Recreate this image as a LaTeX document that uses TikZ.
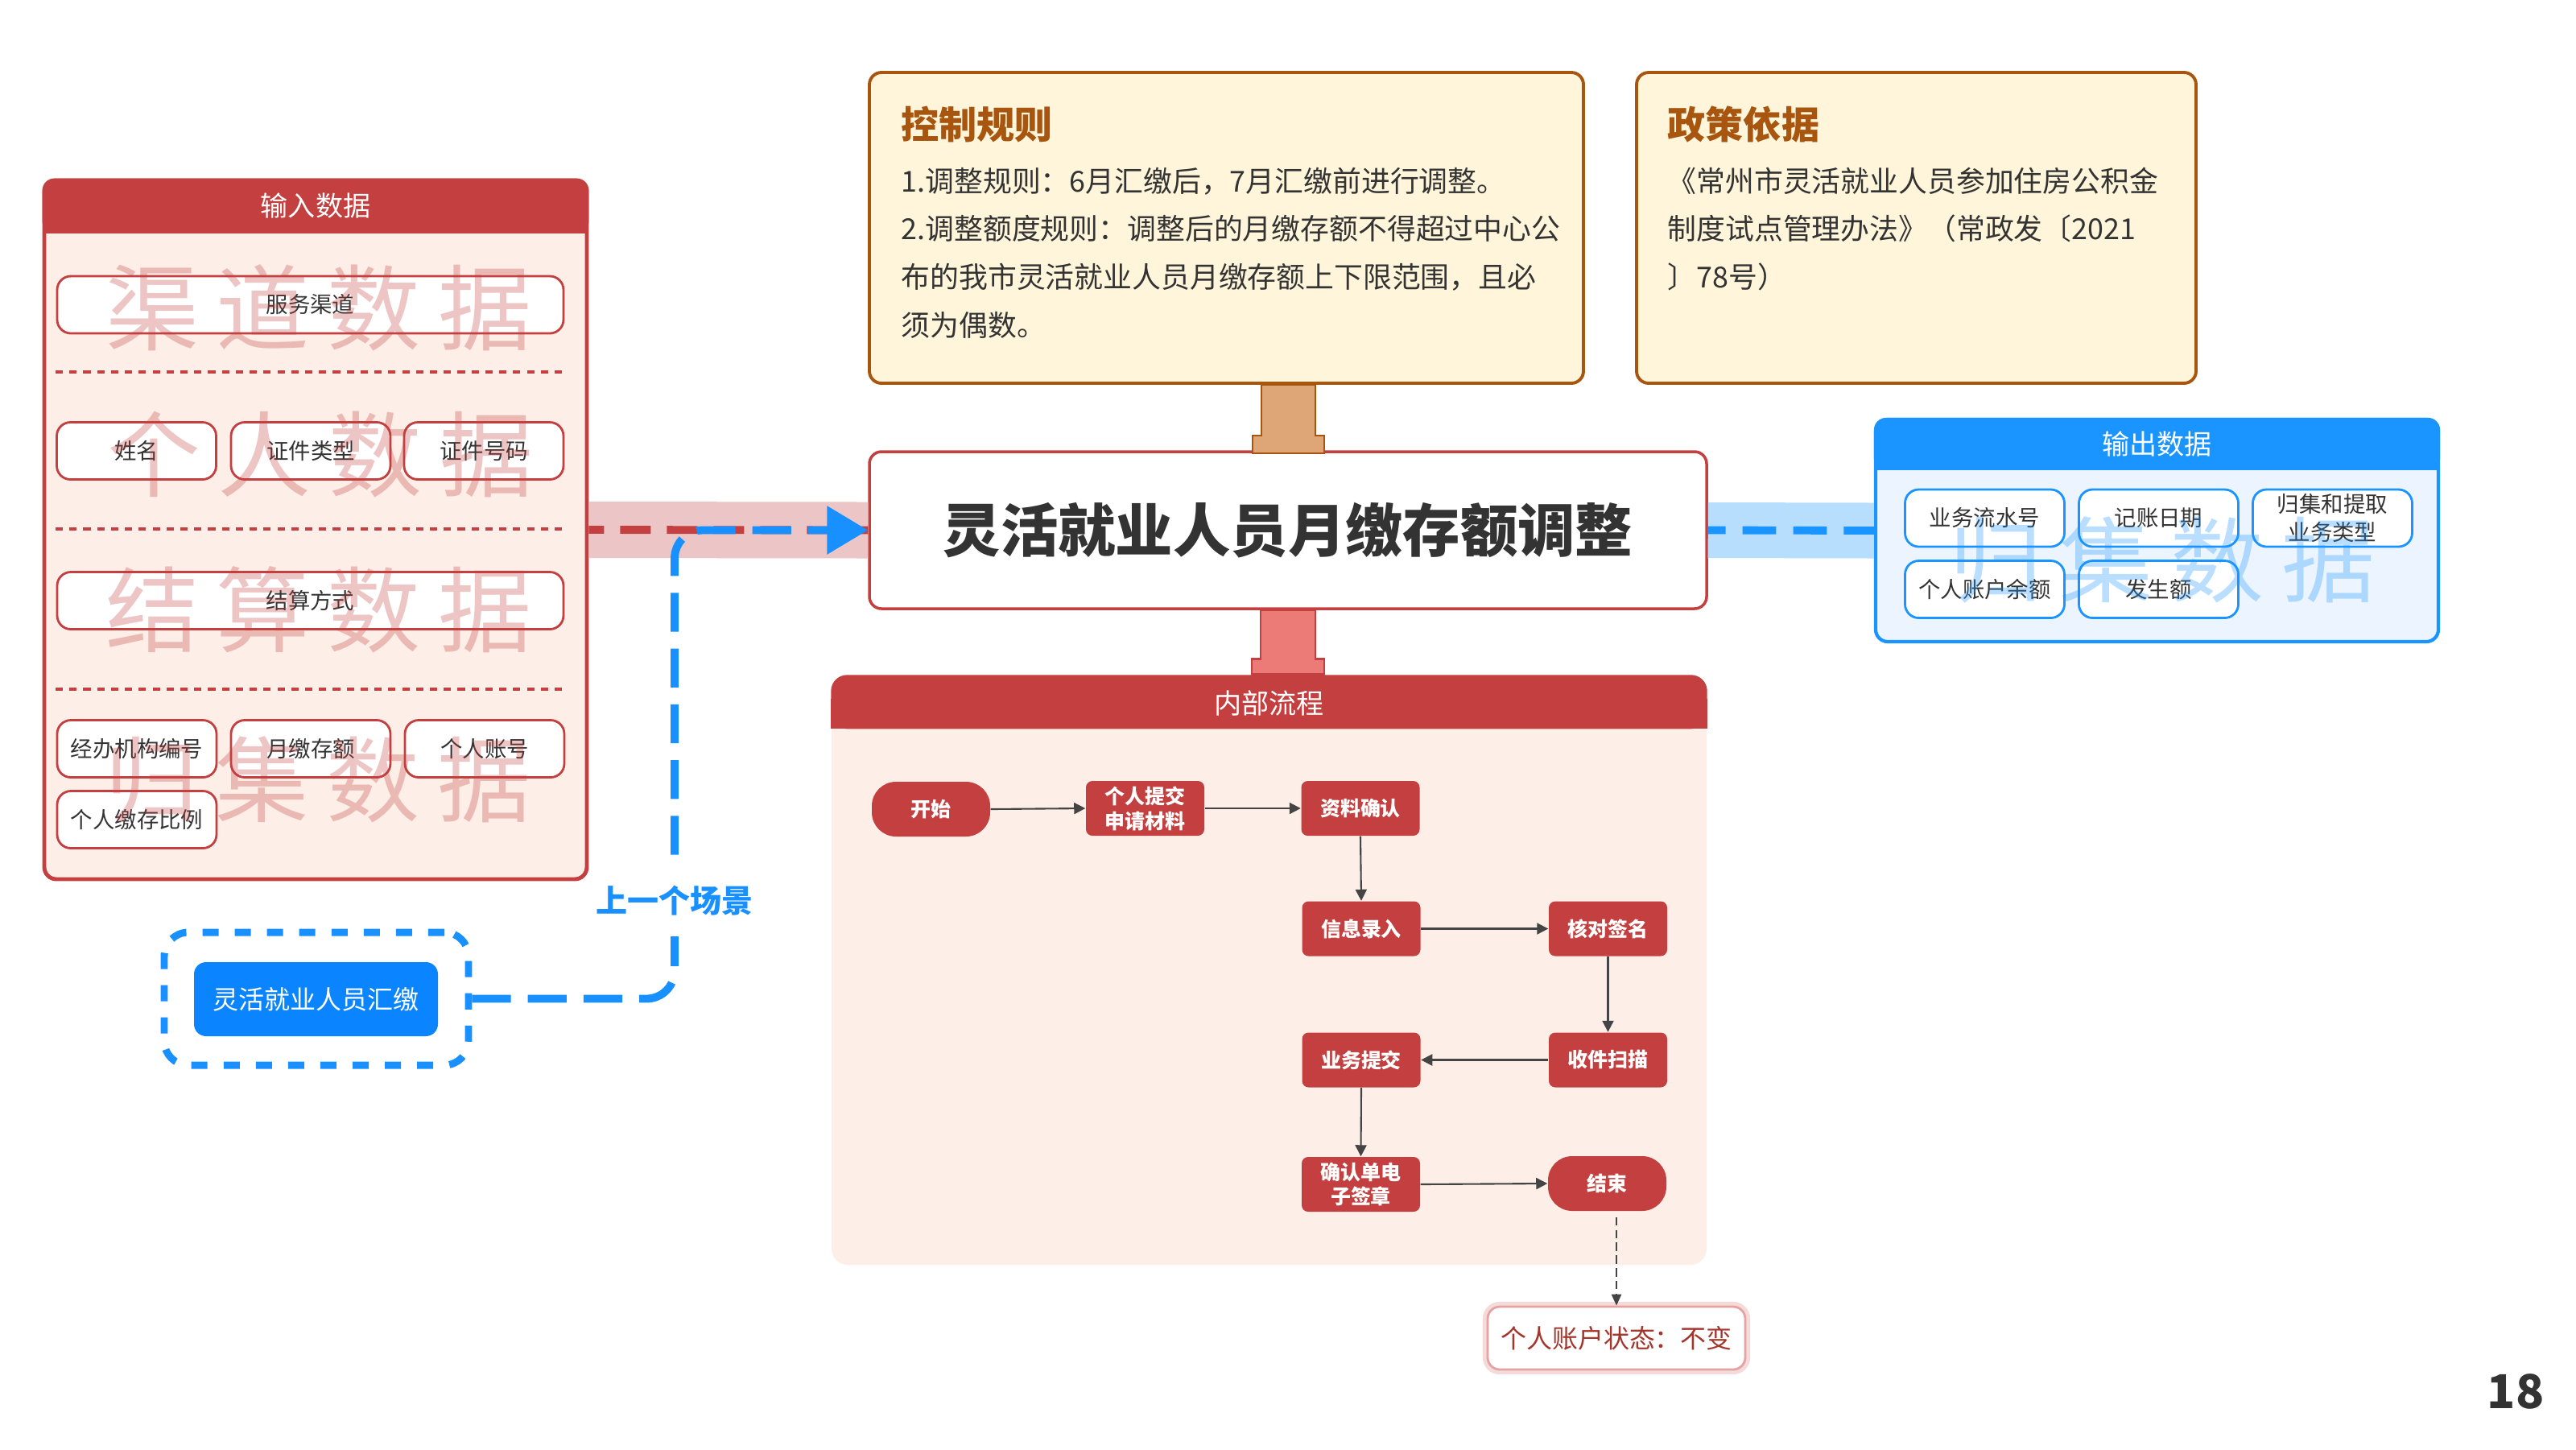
\documentclass[tikz,border=0pt]{standalone}
\usepackage{fontspec}
\setmainfont{Noto Sans CJK SC}
\usepackage{tikz}
\usetikzlibrary{arrows.meta}
\definecolor{boxred}{HTML}{C43F3F}
\definecolor{bodyred}{HTML}{FDEEE8}
\definecolor{bandred}{HTML}{ECC6C6}
\definecolor{stemred}{HTML}{EC7B78}
\definecolor{ruleback}{HTML}{FFF5DA}
\definecolor{rulebrown}{HTML}{A8560F}
\definecolor{stemtan}{HTML}{DEA676}
\definecolor{outblue}{HTML}{1A94FF}
\definecolor{outbody}{HTML}{ECF5FF}
\definecolor{bandblue}{HTML}{B7DFFD}
\definecolor{prevblue}{HTML}{1890FF}
\definecolor{prevfill}{HTML}{0A84FF}
\definecolor{textdark}{HTML}{333333}
\definecolor{arrowgray}{HTML}{444444}
\definecolor{resultred}{HTML}{A3352B}
\definecolor{resultedge}{HTML}{E5A3A3}

\begin{document}
\begin{tikzpicture}[
  field/.style={draw=boxred, fill=white, line width=0.8pt, rounded corners=0.17cm, minimum width=1.98cm, minimum height=0.71cm, inner sep=1pt, align=center, text=textdark, font=\fontsize{7.8}{10}\selectfont},
  outfield/.style={field, draw=outblue},
  flowbox/.style={fill=boxred, rounded corners=0.08cm, minimum width=1.47cm, minimum height=0.68cm, inner sep=1pt, align=center, text=white, font=\bfseries\fontsize{7.1}{8.8}\selectfont},
  flowend/.style={flowbox, rounded corners=0.3cm},
  flowarrow/.style={draw=arrowgray, line width=0.6pt, -{Triangle[length=4pt,width=4pt]}},
  wmark/.style={opacity=0.3, inner sep=0pt, font=\fontsize{33}{33}\selectfont},
  head/.style={text=white, inner sep=0pt, font=\fontsize{9.7}{12}\selectfont},
  divider/.style={draw=boxred, line width=1.1pt, dash pattern=on 2.6pt off 2.3pt},
  boxtitle/.style={anchor=west, inner sep=0pt, text=rulebrown, font=\bfseries\fontsize{13.4}{16}\selectfont},
  boxtext/.style={anchor=north west, inner sep=0pt, align=left, text=textdark, font=\fontsize{10.2}{17}\selectfont}
]
\fill[white] (0,0) rectangle (32,-18);
\useasboundingbox (0,0) rectangle (32,-18);

\node[fill=bodyred, draw=boxred, line width=1.4pt, rounded corners=0.15cm, minimum width=6.74cm, minimum height=8.68cm] (Input dataNbox) at (3.92,-6.58) {};
\fill[boxred, rounded corners=0.15cm] (Input dataNbox.north west) rectangle ([yshift=-0.68cm]Input dataNbox.north east);
\fill[boxred] ([yshift=-0.3cm]Input dataNbox.north west) rectangle ([yshift=-0.68cm]Input dataNbox.north east);
\node[head] (Input dataNhead) at ([yshift=-0.34cm]Input dataNbox.north) {输入数据};
\node[field, minimum width=6.29cm] (Input dataNchannel) at (3.855,-3.785) {服务渠道};
\draw[divider] (0.69,-4.62) -- (6.98,-4.62);
\node[field] (Input dataNname) at (1.695,-5.6) {姓名};
\node[field] (Input dataNidtype) at (3.86,-5.6) {证件类型};
\node[field] (Input dataNidno) at (6.01,-5.6) {证件号码};
\draw[divider] (0.69,-6.57) -- (6.98,-6.57);
\node[field, minimum width=6.29cm] (Input dataNsettle) at (3.855,-7.46) {结算方式};
\draw[divider] (0.69,-8.56) -- (6.98,-8.56);
\node[field] (Input dataNagency) at (1.7,-9.3) {经办机构编号};
\node[field] (Input dataNamount) at (3.86,-9.3) {月缴存额};
\node[field] (Input dataNaccount) at (6.02,-9.3) {个人账号};
\node[field] (Input dataNratio) at (1.7,-10.18) {个人缴存比例};
\node[wmark, text=boxred] (Input dataNwm1) at (3.96,-3.82) {渠\hspace{0.22cm}道\hspace{0.22cm}数\hspace{0.22cm}据};
\node[wmark, text=boxred] (Input dataNwm2) at (3.98,-5.65) {个\hspace{0.22cm}人\hspace{0.22cm}数\hspace{0.22cm}据};
\node[wmark, text=boxred] (Input dataNwm3) at (3.96,-7.57) {结\hspace{0.22cm}算\hspace{0.22cm}数\hspace{0.22cm}据};
\node[wmark, text=boxred] (Input dataNwm4) at (3.95,-9.68) {归\hspace{0.22cm}集\hspace{0.22cm}数\hspace{0.22cm}据};

\node[fill=ruleback, draw=rulebrown, line width=1.1pt, rounded corners=0.15cm, minimum width=8.87cm, minimum height=3.86cm] (Control rulesNbox) at (15.235,-2.83) {};
\node[boxtitle] (Control rulesNtitle) at (11.19,-1.54) {控制规则};
\node[boxtext] (Control rulesNtext) at (11.19,-2.07) {1.调整规则：6月汇缴后，7月汇缴前进行调整。\\2.调整额度规则：调整后的月缴存额不得超过中心公\\布的我市灵活就业人员月缴存额上下限范围，且必\\须为偶数。};
\node[fill=ruleback, draw=rulebrown, line width=1.1pt, rounded corners=0.15cm, minimum width=6.95cm, minimum height=3.86cm] (Policy basisNbox) at (23.805,-2.83) {};
\node[boxtitle] (Policy basisNtitle) at (20.71,-1.54) {政策依据};
\node[boxtext] (Policy basisNtext) at (20.71,-2.07) {《常州市灵活就业人员参加住房公积金\\制度试点管理办法》（常政发〔2021\\〕78号）};

\node[fill=white, draw=boxred, line width=1pt, rounded corners=0.15cm, minimum width=10.4cm, minimum height=1.95cm, text=textdark, font=\bfseries\fontsize{20.3}{24}\selectfont] (Main sceneNtitle) at (16,-6.585) {灵活就业人员月缴存额调整};
\draw[fill=stemtan, draw=rulebrown, line width=0.8pt] ([xshift=-0.33cm]Main sceneNtitle.north |- Control rulesNbox.south) -- ++(0,-0.63) -- ++(-0.11,0) -- ++(0,-0.22) -- ++(0.89,0) -- ++(0,0.22) -- ++(-0.11,0) -- ++(0,0.63) -- cycle;

\node[fill=outbody, draw=outblue, line width=1.2pt, rounded corners=0.15cm, minimum width=6.99cm, minimum height=2.76cm] (Output dataNbox) at (26.795,-6.59) {};
\fill[outblue, rounded corners=0.15cm] (Output dataNbox.north west) rectangle ([yshift=-0.65cm]Output dataNbox.north east);
\fill[outblue] ([yshift=-0.3cm]Output dataNbox.north west) rectangle ([yshift=-0.65cm]Output dataNbox.north east);
\node[head] (Output dataNhead) at ([yshift=-0.33cm]Output dataNbox.north) {输出数据};
\node[outfield] (Output dataNserial) at (24.655,-6.435) {业务流水号};
\node[outfield] (Output dataNdate) at (26.815,-6.435) {记账日期};
\node[outfield] (Output dataNtype) at (28.975,-6.435) {归集和提取\\业务类型};
\node[outfield] (Output dataNbalance) at (24.655,-7.32) {个人账户余额};
\node[outfield] (Output dataNamount) at (26.815,-7.32) {发生额};
\node[wmark, text=outblue] (Output dataNwm) at (26.86,-6.95) {归\hspace{0.22cm}集\hspace{0.22cm}数\hspace{0.22cm}据};

\draw[bandred, line width=0.7cm] (Input dataNbox.east) -- (Main sceneNtitle.west);
\draw[boxred, line width=2.8pt, dash pattern=on 10.8pt off 5.7pt, dash phase=5.4pt] (Input dataNbox.east) -- (Main sceneNtitle.west);
\draw[bandblue, line width=0.69cm] (Main sceneNtitle.east) -- (Output dataNbox.west);
\draw[outblue, line width=2.8pt, dash pattern=on 11.9pt off 6pt, dash phase=5.7pt] (Main sceneNtitle.east) -- (Output dataNbox.west);

\node[draw=prevblue, line width=2.55pt, dash pattern=on 5.7pt off 5.7pt, rounded corners=0.3cm, minimum width=3.78cm, minimum height=1.65cm] (Prev sceneNbox) at (3.93,-12.405) {};
\node[fill=prevfill, rounded corners=0.15cm, minimum width=3.03cm, minimum height=0.92cm, text=white, font=\fontsize{9.1}{11}\selectfont] (Prev sceneNsource) at (3.925,-12.41) {灵活就业人员汇缴};
\coordinate (Prev sceneNbend) at (8.38,-11.19);
\draw[prevblue, line width=2.8pt, dash pattern=on 13.7pt off 6pt, rounded corners=0.35cm, -{Triangle[length=0.51cm,width=0.58cm]}] (Prev sceneNbox.east) -| (Prev sceneNbend) |- (Main sceneNtitle.west);
\node[fill=white, inner xsep=1pt, inner ysep=0.25cm, text=prevblue, font=\bfseries\fontsize{11.1}{13}\selectfont] (Prev sceneNlabel) at (Prev sceneNbend) {上一个场景};

\node[fill=bodyred, rounded corners=0.2cm, minimum width=10.87cm, minimum height=7.32cm] (Internal processNbox) at (15.765,-12.05) {};
\fill[boxred, rounded corners=0.2cm] (Internal processNbox.north west) rectangle ([yshift=-0.67cm]Internal processNbox.north east);
\fill[boxred] ([yshift=-0.3cm]Internal processNbox.north west) rectangle ([yshift=-0.67cm]Internal processNbox.north east);
\node[head] (Internal processNhead) at ([yshift=-0.355cm]Internal processNbox.north) {内部流程};
\draw[fill=stemred, draw=boxred, line width=0.8pt] ([xshift=-0.34cm]Main sceneNtitle.south) -- ++(0,-0.61) -- ++(-0.11,0) -- ++(0,-0.19) -- ++(0.9,0) -- ++(0,0.19) -- ++(-0.11,0) -- ++(0,0.61) -- cycle;

\node[flowend] (Internal processNstart) at (11.565,-10.05) {开始};
\node[flowbox] (Internal processNsubmit) at (14.225,-10.04) {个人提交\\申请材料};
\node[flowbox] (Internal processNconfirm) at (16.9,-10.04) {资料确认};
\node[flowbox] (Internal processNinput) at (16.91,-11.535) {信息录入};
\node[flowbox] (Internal processNcheck) at (19.975,-11.535) {核对签名};
\node[flowbox] (Internal processNscan) at (19.975,-13.165) {收件扫描};
\node[flowbox] (Internal processNbusiness) at (16.91,-13.165) {业务提交};
\node[flowbox] (Internal processNsign) at (16.905,-14.71) {确认单电\\子签章};
\node[flowend] (Internal processNend) at (19.965,-14.7) {结束};
\draw[flowarrow] (Internal processNstart.east) -- (Internal processNsubmit.west);
\draw[flowarrow] (Internal processNsubmit.east) -- (Internal processNconfirm.west);
\draw[flowarrow] (Internal processNconfirm.south) -- (Internal processNinput.north);
\draw[flowarrow] (Internal processNinput.east) -- (Internal processNcheck.west);
\draw[flowarrow] (Internal processNcheck.south) -- (Internal processNscan.north);
\draw[flowarrow] (Internal processNscan.west) -- (Internal processNbusiness.east);
\draw[flowarrow] (Internal processNbusiness.south) -- (Internal processNsign.north);
\draw[flowarrow] (Internal processNsign.east) -- (Internal processNend.west);

\node[fill=white, draw=resultedge, line width=0.8pt, rounded corners=0.15cm, preaction={draw=resultedge!40, line width=3.5pt}, minimum width=3.2cm, minimum height=0.78cm, text=resultred, font=\fontsize{9.1}{11}\selectfont] (Internal processNresult) at (20.08,-16.62) {个人账户状态：不变};
\draw[arrowgray, line width=0.5pt, dash pattern=on 3pt off 1.5pt, shorten <=2pt, -{Triangle[length=4pt,width=3.5pt]}] (Internal processNend.south -| Internal processNresult.north) -- (Internal processNresult.north);

\node[text=textdark, font=\bfseries\fontsize{16.5}{18}\selectfont] (PageN18) at (31.25,-17.28) {18};
\end{tikzpicture}
\end{document}
